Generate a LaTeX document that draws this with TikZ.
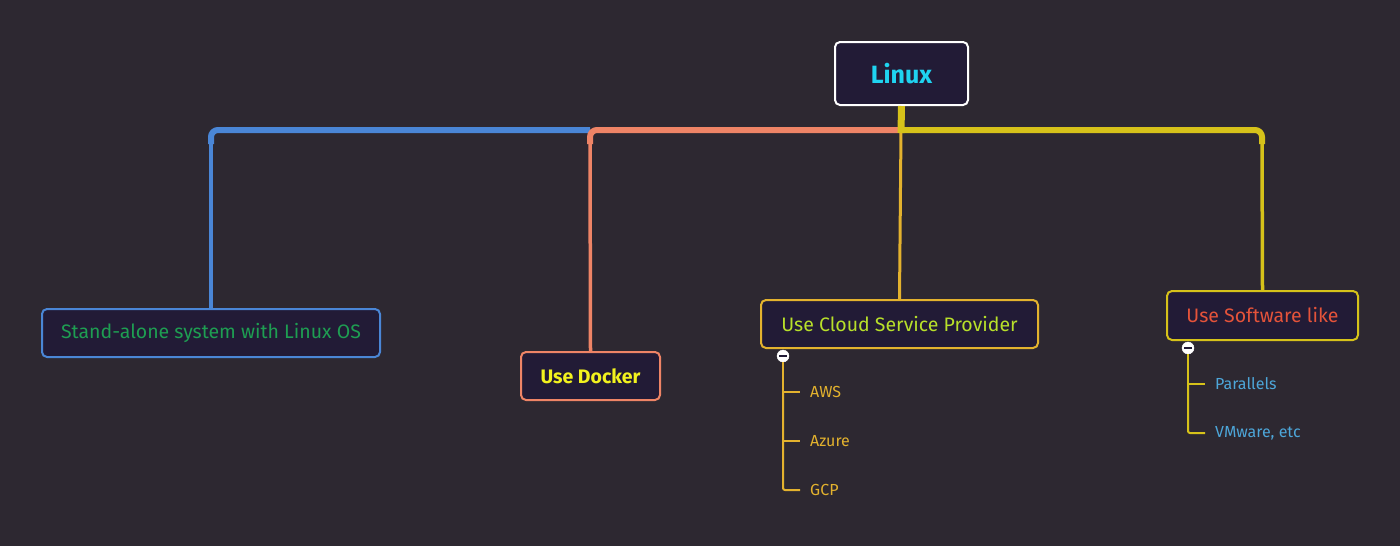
\documentclass[tikz,border=0pt]{standalone}
\usepackage{fontspec}
\setmainfont{Fira Sans}
\begin{document}
\begin{tikzpicture}[x=1pt,y=-1pt,
  box/.style={draw, rounded corners=5pt, fill=nodefill, line width=2pt, inner xsep=0pt, inner ysep=0pt, font=\fontsize{19.5}{22}\selectfont},
  sub/.style={anchor=west, inner xsep=10pt, inner ysep=2pt, font=\fontsize{16}{18}\selectfont},
  tog/.style={circle, draw=white, fill=white, minimum size=12pt, inner sep=0pt},
]
\definecolor{bg}{HTML}{2D2831}
\definecolor{nodefill}{HTML}{221B36}
\definecolor{cblue}{HTML}{4A86D6}
\definecolor{csalmon}{HTML}{EE8466}
\definecolor{cyel}{HTML}{D6C21A}
\definecolor{corange}{HTML}{E3B22E}
\definecolor{tgreen}{HTML}{1E9E52}
\definecolor{tdocker}{HTML}{F2F21E}
\definecolor{tcloud}{HTML}{B8E02A}
\definecolor{tsoft}{HTML}{E5533A}
\definecolor{tsubb}{HTML}{4DA6D9}
\definecolor{tlinux}{HTML}{1FD3F0}
\fill[bg] (0,0) rectangle (1400,546);
\useasboundingbox (0,0) rectangle (1400,546);

% nodes
\node[box, draw=white, minimum width=133pt, minimum height=63pt, text=tlinux, font=\fontsize{25}{27}\selectfont\bfseries] (L) at (901.5,73.5) {Linux};
\node[box, draw=cblue, minimum width=338pt, minimum height=48pt, text=tgreen] (SA) at (211,333) {Stand-alone system with Linux OS};
\node[box, draw=csalmon, minimum width=139pt, minimum height=48pt, text=tdocker, font=\fontsize{19.5}{22}\selectfont\bfseries] (DK) at (590.5,376) {Use Docker};
\node[box, draw=corange, minimum width=277pt, minimum height=48pt, text=tcloud] (CL) at (899.5,324) {Use Cloud Service Provider};
\node[box, draw=cyel, minimum width=191pt, minimum height=49pt, text=tsoft] (SW) at (1262.5,315.5) {Use Software like};

% bus coordinates
\coordinate (J) at (901,130);
\coordinate (bL) at (211,130);
\coordinate (bD) at (590,130);
\coordinate (bR) at (1262,130);

% blue branch
\draw[cblue, line width=6pt, rounded corners=7pt] (bD) -- (bL) -- ([yshift=-14pt]bL);
\draw[cblue, line width=3.5pt] ([yshift=-12pt]bL) -- (SA.north);
% salmon branch
\draw[csalmon, line width=6pt, rounded corners=7pt] (J) -- (bD) -- ([yshift=-14pt]bD);
\draw[csalmon, line width=3.5pt] ([yshift=-12pt]bD) -- (DK.north);
% yellow branch
\draw[cyel, line width=6pt, rounded corners=7pt] (J) -- (bR) -- ([yshift=-14pt]bR);
\draw[cyel, line width=3.5pt] ([yshift=-12pt]bR) -- (SW.north);
% cloud branch
\draw[corange, line width=3pt] (J) -- (CL.north);
% stem
\draw[cyel, line width=7pt] (L.south) -- ([yshift=-3pt]J);

% cloud sub items
\node[tog] (t1) at (783,356) {};
\draw[nodefill, line width=1.5pt] ([xshift=-4pt]t1.center) -- ([xshift=4pt]t1.center);
\node[sub, text=corange] (aws) at (800,392) {AWS};
\node[sub, text=corange] (az) at (800,441) {Azure};
\node[sub, text=corange] (gcp) at (800,490) {GCP};
\draw[corange, line width=2pt] (t1.south) -- (t1.south |- aws.west) -- (aws.west);
\draw[corange, line width=2pt] (t1.south |- az.west) -- (az.west);
\draw[corange, line width=2pt, rounded corners=2pt] (t1.south |- aws.west) -- (t1.south |- gcp.west) -- (gcp.west);

% software sub items
\node[tog] (t2) at (1188,348) {};
\draw[nodefill, line width=1.5pt] ([xshift=-4pt]t2.center) -- ([xshift=4pt]t2.center);
\node[sub, text=tsubb] (par) at (1205,384) {Parallels};
\node[sub, text=tsubb] (vm) at (1205,433) {VMware, etc};
\draw[cyel, line width=2pt] (t2.south) -- (t2.south |- par.west) -- (par.west);
\draw[cyel, line width=2pt, rounded corners=2pt] (t2.south |- par.west) -- (t2.south |- vm.west) -- (vm.west);
\end{tikzpicture}
\end{document}
